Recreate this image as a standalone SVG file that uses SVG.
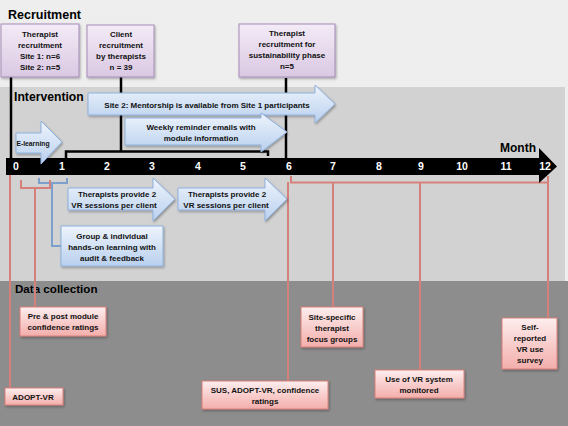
<svg xmlns="http://www.w3.org/2000/svg" width="568" height="426" viewBox="0 0 568 426">
<style>
text{font-family:"Liberation Sans",Arial,sans-serif;font-weight:bold;}
.t{font-size:8px;fill:#111;text-anchor:middle;}
.h{fill:#000;}
.num{font-size:10.5px;fill:#fff;text-anchor:middle;}
.pbox{fill:url(#gp);stroke:#a68bb7;stroke-width:1;filter:url(#sh);}
.bbox{fill:url(#gb);stroke:#8fb1de;stroke-width:1;filter:url(#sh);}
.rbox{fill:url(#gr);stroke:#d8807b;stroke-width:1;filter:url(#sh);}
.kl{fill:none;stroke:#000;stroke-width:2.5;}
.bl{fill:none;stroke:#7c9fcb;stroke-width:2;}
.rl{fill:none;stroke:#d5807a;stroke-width:2;}
</style>
<defs>
<linearGradient id="gp" x1="0" y1="0" x2="0" y2="1"><stop offset="0" stop-color="#f3ebf6"/><stop offset="1" stop-color="#dac8e3"/></linearGradient>
<linearGradient id="gb" x1="0" y1="0" x2="0" y2="1"><stop offset="0" stop-color="#eef4fc"/><stop offset="1" stop-color="#b9d0ee"/></linearGradient>
<linearGradient id="gr" x1="0" y1="0" x2="0" y2="1"><stop offset="0" stop-color="#fdeeee"/><stop offset="1" stop-color="#f3aeab"/></linearGradient>
<filter id="sh" x="-10%" y="-10%" width="130%" height="140%"><feDropShadow dx="1" dy="1.5" stdDeviation="1" flood-color="#000" flood-opacity="0.3"/></filter>
</defs>

<rect x="0" y="0" width="568" height="426" fill="#eeeeee"/>
<rect x="0" y="87" width="565" height="194" fill="#d2d2d2"/>
<rect x="0" y="281" width="568" height="145" fill="#8d8d8d"/>

<text x="8" y="19" class="h" font-size="12.5">Recruitment</text>
<text x="14" y="101" class="h" font-size="12.2">Intervention</text>
<text x="15" y="293" class="h" font-size="11.6">Data collection</text>

<g id="connectors">
<path class="kl" d="M11,77 V160"/>
<path class="kl" d="M121,77 V151"/>
<path class="kl" d="M66,158 V151.5 H268 V156"/>
<path class="kl" d="M286,78 V160"/>
<path class="bl" d="M39,178 V183 H67 V178"/>
<path class="bl" d="M52,183 V246 H61"/>
<path class="rl" d="M21,180 V188 H50 V180"/>
<path class="rl" d="M35,188 V307"/>
<path class="rl" d="M10,175 V388"/>
<path class="rl" d="M291,176 V182.5 H548 V176"/>
<path class="rl" d="M288,182 V381"/>
<path class="rl" d="M333,182 V307"/>
<path class="rl" d="M420,182 V370"/>
<path class="rl" d="M548,182 V318"/>
</g>

<g id="timeline">
<path d="M6,158 H539 V148 L557,166.5 L539,183 V175 H6 Z" fill="#000"/>
<text x="16" y="170" class="num">0</text>
<text x="62" y="170" class="num">1</text>
<text x="107" y="170" class="num">2</text>
<text x="152" y="170" class="num">3</text>
<text x="198" y="170" class="num">4</text>
<text x="243" y="170" class="num">5</text>
<text x="289" y="170" class="num">6</text>
<text x="333" y="170" class="num">7</text>
<text x="379" y="170" class="num">8</text>
<text x="421" y="170" class="num">9</text>
<text x="462" y="170" class="num">10</text>
<text x="506" y="170" class="num">11</text>
<text x="545" y="170" class="num">12</text>
<text x="518" y="152" class="h" font-size="12" text-anchor="middle">Month</text>
</g>

<g id="rec-therapist">
<rect class="pbox" x="1" y="24" width="78" height="53"/>
<text class="t" x="40" y="37">Therapist</text>
<text class="t" x="40" y="48">recruitment</text>
<text class="t" x="40" y="59">Site 1: n=6</text>
<text class="t" x="40" y="70">Site 2: n=5</text>
</g>
<g id="rec-client">
<rect class="pbox" x="87" y="25" width="67" height="52"/>
<text class="t" x="121" y="37">Client</text>
<text class="t" x="121" y="48">recruitment</text>
<text class="t" x="121" y="59">by therapists</text>
<text class="t" x="121" y="70">n = 39</text>
</g>
<g id="rec-sustain">
<rect class="pbox" x="239" y="24" width="96" height="53"/>
<text class="t" x="287" y="36">Therapist</text>
<text class="t" x="287" y="47">recruitment for</text>
<text class="t" x="287" y="58">sustainability phase</text>
<text class="t" x="287" y="69">n=5</text>
</g>

<g id="mentorship">
<path class="bbox" d="M88,93 H315 V85 L335,104 L315,123 V115 H88 Z"/>
<text class="t" x="207" y="108">Site 2: Mentorship is available from Site 1 participants</text>
</g>
<g id="weekly">
<path class="bbox" d="M125,118 H261 V113 L287,132 L261,152 V145 H125 Z"/>
<text class="t" x="201" y="130">Weekly reminder emails with</text>
<text class="t" x="201" y="141">module information</text>
</g>
<g id="elearning">
<path class="bbox" d="M16,133 H41 V121 L62,142 L41,164 V153 H16 Z"/>
<text x="33" y="146" font-size="6.8" fill="#111" text-anchor="middle">E-learning</text>
</g>
<g id="sessions1">
<path class="bbox" d="M68,188 H153 V178 L175,199 L153,221 V210 H68 Z"/>
<text class="t" x="117" y="197">Therapists provide 2</text>
<text class="t" x="114" y="208">VR sessions per client</text>
</g>
<g id="sessions2">
<path class="bbox" d="M178,188 H265 V178 L287,199 L265,221 V210 H178 Z"/>
<text class="t" x="227" y="197">Therapists provide 2</text>
<text class="t" x="226" y="208">VR sessions per client</text>
</g>
<g id="group-learning">
<rect class="bbox" x="61" y="226" width="102" height="40"/>
<text class="t" x="112" y="239">Group &amp; individual</text>
<text class="t" x="112" y="250">hands-on learning with</text>
<text class="t" x="112" y="261">audit &amp; feedback</text>
</g>

<g id="adopt-vr">
<rect class="rbox" x="5" y="388" width="58" height="17"/>
<text class="t" x="33" y="400">ADOPT-VR</text>
</g>
<g id="prepost">
<rect class="rbox" x="20" y="307" width="86" height="29"/>
<text class="t" x="63" y="319">Pre &amp; post module</text>
<text class="t" x="63" y="330">confidence ratings</text>
</g>
<g id="sus">
<rect class="rbox" x="202" y="381" width="126" height="28"/>
<text class="t" x="265" y="393">SUS, ADOPT-VR, confidence</text>
<text class="t" x="265" y="404">ratings</text>
</g>
<g id="focus">
<rect class="rbox" x="301" y="307" width="62" height="40"/>
<text class="t" x="332" y="320">Site-specific</text>
<text class="t" x="332" y="331">therapist</text>
<text class="t" x="332" y="342">focus groups</text>
</g>
<g id="vr-monitored">
<rect class="rbox" x="375" y="370" width="89" height="28"/>
<text class="t" x="419" y="382">Use of VR system</text>
<text class="t" x="419" y="393">monitored</text>
</g>
<g id="survey">
<rect class="rbox" x="502" y="318" width="55" height="51"/>
<text class="t" x="530" y="330">Self-</text>
<text class="t" x="530" y="341">reported</text>
<text class="t" x="530" y="352">VR use</text>
<text class="t" x="530" y="363">survey</text>
</g>
</svg>
